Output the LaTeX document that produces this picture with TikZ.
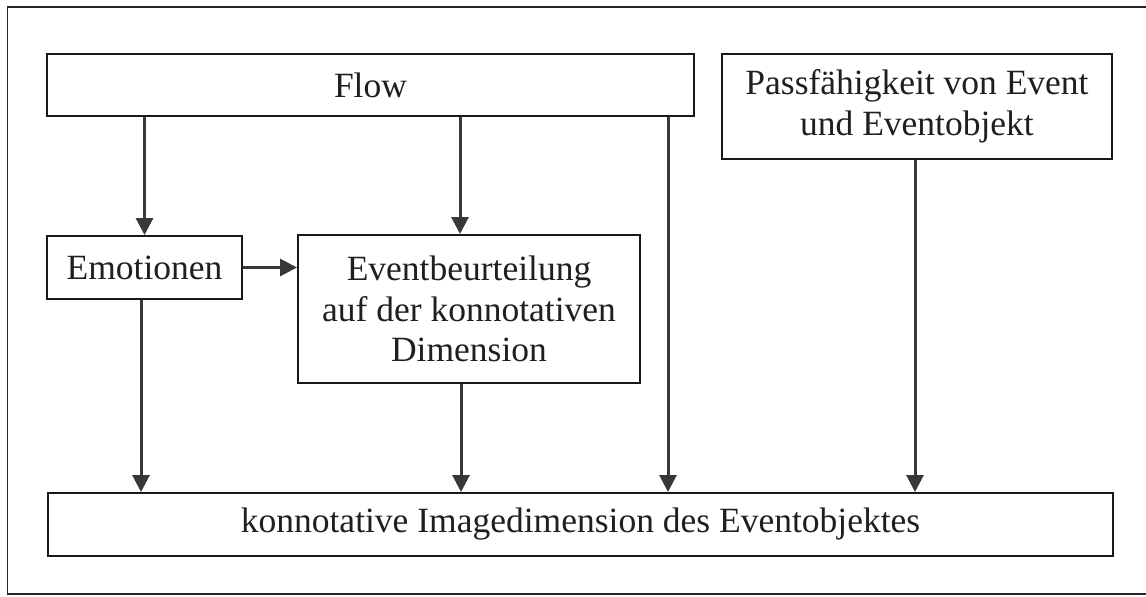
\documentclass[tikz,border=0pt]{standalone}
\usepackage{fontspec}
\setmainfont{Liberation Serif}
\usetikzlibrary{arrows.meta}

\begin{document}
\begin{tikzpicture}[x=1pt, y=-1pt,
  box/.style={draw=black!90, line width=2pt, inner sep=0pt, align=center,
    text=black!88, font=\fontsize{35.5}{40.5}\selectfont},
  arr/.style={draw=black!78, line width=3pt,
    -{Triangle[width=17pt, length=17pt]}},
  frameline/.style={draw=black!85, line width=1.6pt}]
  \useasboundingbox (0,0) rectangle (1146,597);

  % outer frame (its right side runs off the page)
  \draw[frameline] (1160,7) -- (7.5,7) -- (7.5,594) -- (1160,594);

  % boxes
  \node[box, minimum width=647pt, minimum height=62pt] (flow) at (370.5,85) {Flow};
  \node[box, minimum width=390pt, minimum height=105pt] (pass) at (917,106.5)
    {Passfähigkeit von Event\\und Eventobjekt};
  \node[box, minimum width=195pt, minimum height=63pt] (emo) at (144.5,267.5) {Emotionen};
  \node[box, minimum width=342pt, minimum height=148pt] (eval) at (469,309)
    {Eventbeurteilung\\auf der konnotativen\\Dimension};
  \node[box, minimum width=1065pt, minimum height=63pt] (image) at (580.5,524.5)
    {konnotative Imagedimension des Eventobjektes};

  % connectors
  \draw[arr] (emo.north |- flow.south) -- (emo.north);
  \draw[arr] ([xshift=-9pt]eval.north |- flow.south) -- ([xshift=-9pt]eval.north);
  \draw[arr] ([xshift=-27pt]flow.south east) -- ([xshift=-27pt]flow.south east |- image.north);
  \draw[arr] (emo.east) -- (eval.west |- emo.east);
  \draw[arr] ([xshift=-3.5pt]emo.south) -- ([xshift=-3.5pt]emo.south |- image.north);
  \draw[arr] ([xshift=-8pt]eval.south) -- ([xshift=-8pt]eval.south |- image.north);
  \draw[arr] ([xshift=-2pt]pass.south) -- ([xshift=-2pt]pass.south |- image.north);
\end{tikzpicture}
\end{document}
